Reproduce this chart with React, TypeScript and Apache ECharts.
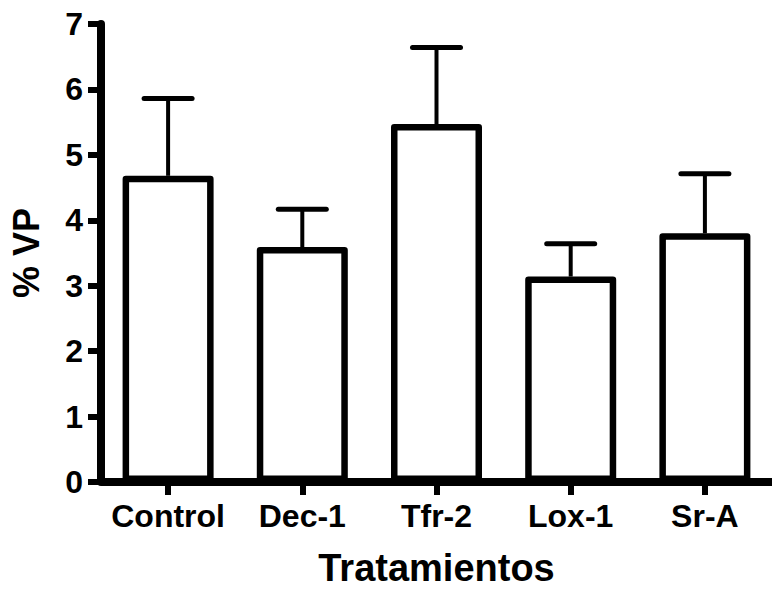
import React, { useEffect, useRef } from "react";
import * as echarts from "echarts";

const categories = ["Control", "Dec-1", "Tfr-2", "Lox-1", "Sr-A"];
const means = [4.68, 3.59, 5.47, 3.14, 3.8];
const errors = [1.18, 0.58, 1.17, 0.5, 0.91];
const yTicks = [0, 1, 2, 3, 4, 5, 6, 7];

const FONT = "'Liberation Sans', Arial, Helvetica, sans-serif";

export default function App() {
  const ref = useRef<HTMLDivElement>(null);
  useEffect(() => {
    if (!ref.current) return;
    const chart = echarts.init(ref.current, null, { renderer: "svg" });
    const errData = means.map((m, i) => [i, m, m + errors[i]]);
    chart.setOption({
      animation: false,
      backgroundColor: "#ffffff",
      grid: { left: 99, right: -12, top: 24, bottom: 107, containLabel: false },
      xAxis: {
        type: "category",
        data: categories,
        name: "Tratamientos",
        nameLocation: "middle",
        nameGap: 67,
        nameTextStyle: { fontFamily: FONT, fontWeight: "bold", fontSize: 38, color: "#000" },
        axisLine: { show: true, lineStyle: { color: "#000", width: 8, cap: "butt" } },
        axisTick: { show: true, alignWithLabel: true, length: 13, lineStyle: { color: "#000", width: 6 } },
        axisLabel: { interval: 0, margin: 18, fontFamily: FONT, fontWeight: "bold", fontSize: 32, color: "#000" },
        splitLine: { show: false },
      },
      yAxis: {
        type: "value",
        min: yTicks[0],
        max: yTicks[yTicks.length - 1],
        interval: 1,
        name: "% VP",
        nameLocation: "middle",
        nameGap: 57,
        nameRotate: 90,
        nameTextStyle: { fontFamily: FONT, fontWeight: "bold", fontSize: 36, color: "#000" },
        axisLine: { show: true, lineStyle: { color: "#000", width: 8 } },
        axisTick: { show: true, length: 13, lineStyle: { color: "#000", width: 6 } },
        axisLabel: { margin: 18, fontFamily: FONT, fontWeight: "bold", fontSize: 32, color: "#000" },
        splitLine: { show: false },
      },
      series: [
        {
          type: "custom",
          z: 1,
          data: errData,
          renderItem: (params: any, api: any) => {
            const x = api.value(0);
            const lo = api.coord([x, api.value(1)]);
            const hi = api.coord([x, api.value(2)]);
            const half = 24;
            return {
              type: "group",
              children: [
                {
                  type: "line",
                  shape: { x1: lo[0], y1: lo[1], x2: hi[0], y2: hi[1] },
                  style: { stroke: "#000", lineWidth: 4 },
                },
                {
                  type: "line",
                  shape: { x1: hi[0] - half, y1: hi[1], x2: hi[0] + half, y2: hi[1] },
                  style: { stroke: "#000", lineWidth: 5, lineCap: "round" },
                },
              ],
            };
          },
        },
        {
          type: "bar",
          z: 2,
          data: means,
          barWidth: 91,
          itemStyle: { color: "#ffffff", borderColor: "#000", borderWidth: 6.5, borderJoin: "round" },
        },
      ],
    });
    return () => chart.dispose();
  }, []);
  return (
    <div
      ref={ref}
      style={{ position: "absolute", left: 0, top: 0, width: 772, height: 592, overflow: "hidden" }}
    />
  );
}
